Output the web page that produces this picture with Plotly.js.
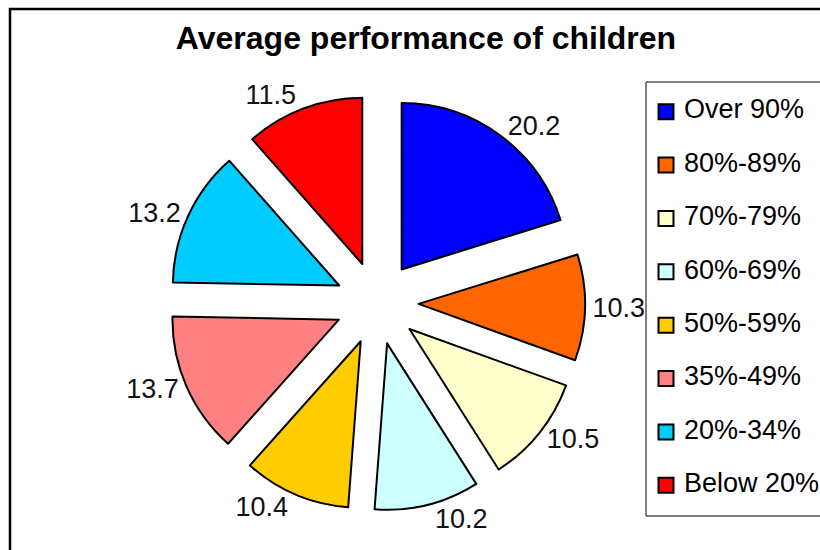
<!DOCTYPE html>
<html>
<head>
<meta charset="utf-8">
<script src="https://cdn.plot.ly/plotly-3.0.1.min.js"></script>
<style>html,body{margin:0;padding:0;background:#fff;}#chart{width:820px;height:550px;}</style>
</head>
<body>
<div id="chart"></div>
<script>
const categories = ["Over 90%", "80%-89%", "70%-79%", "60%-69%", "50%-59%", "35%-49%", "20%-34%", "Below 20%"];
const values = [20.2, 10.3, 10.5, 10.2, 10.4, 13.7, 13.2, 11.5];
const colors = ["#0000FF", "#FF6600", "#FFFFCC", "#CCFFFF", "#FFCC00", "#FF8080", "#00CCFF", "#FF0000"];
const chartTitle = "Average performance of children";

const W = 820, H = 550;
const px = v => v / W;
const py = v => 1 - v / H;
const font = "Liberation Sans, Arial, sans-serif";

const pie = {
  type: "pie",
  labels: categories,
  values: values,
  sort: false,
  direction: "clockwise",
  rotation: 0,
  pull: values.map(() => 0.25),
  marker: {colors: colors, line: {color: "#000", width: 2}},
  texttemplate: "%{value:.1f}",
  textposition: "outside",
  outsidetextfont: {family: font, size: 27, color: "#111"},
  domain: {x: [px(169), px(585)], y: [py(512), py(94)]},
  showlegend: false,
  hoverinfo: "none"
};

const legendTrace = {
  type: "scatter",
  mode: "markers+text",
  x: categories.map(() => 0),
  y: categories.map((c, i) => i),
  text: categories.map(c => " " + c),
  textposition: "middle right",
  textfont: {family: font, size: 27, color: "#000"},
  marker: {symbol: "square", size: 15, color: colors, line: {color: "#000", width: 2}},
  cliponaxis: false,
  showlegend: false,
  hoverinfo: "none",
  xaxis: "x",
  yaxis: "y"
};

const layout = {
  width: W, height: H,
  margin: {l: 0, r: 0, t: 0, b: 0},
  paper_bgcolor: "#fff",
  plot_bgcolor: "rgba(0,0,0,0)",
  title: {text: "<b>" + chartTitle + "</b>", font: {family: font, size: 32, color: "#000"}, x: px(426), xanchor: "center", y: py(38), yanchor: "middle"},
  xaxis: {domain: [px(666), 1], range: [0, 1], visible: false, fixedrange: true},
  yaxis: {domain: [py(512), py(85)], range: [7.5, -0.5], visible: false, fixedrange: true},
  shapes: [
    {type: "rect", xref: "paper", yref: "paper", x0: px(10), x1: px(830), y0: py(560), y1: py(9), line: {color: "#000", width: 2.5}, fillcolor: "rgba(0,0,0,0)"},
    {type: "rect", xref: "paper", yref: "paper", x0: px(646), x1: px(830), y0: py(516), y1: py(82), line: {color: "#000", width: 1}, fillcolor: "rgba(0,0,0,0)"}
  ],
  showlegend: false
};

Plotly.newPlot("chart", [pie, legendTrace], layout, {displayModeBar: false, staticPlot: true});
</script>
</body>
</html>
